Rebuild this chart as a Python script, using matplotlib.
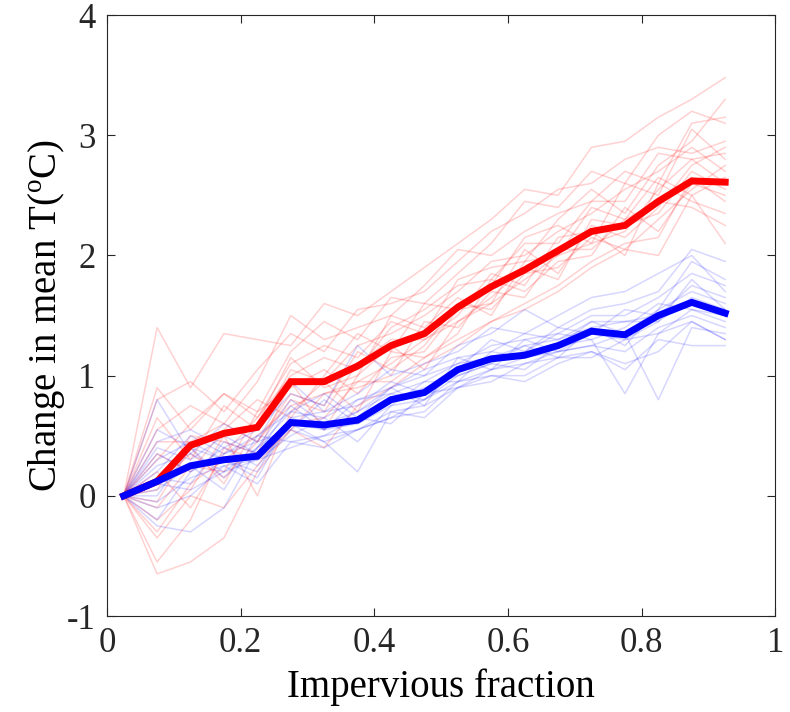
import numpy as np
import matplotlib
matplotlib.use("Agg")
import matplotlib.pyplot as plt

plt.rcParams["font.family"] = ["Liberation Serif", "DejaVu Serif"]
plt.rcParams["mathtext.fontset"] = "custom"
plt.rcParams["mathtext.rm"] = "Liberation Serif"
plt.rcParams["mathtext.it"] = "Liberation Serif:italic"
plt.rcParams["axes.unicode_minus"] = False

# impervious fraction bins (centres)
frac = [0.025, 0.075, 0.125, 0.175, 0.225, 0.275, 0.325, 0.375, 0.425, 0.475,
        0.525, 0.575, 0.625, 0.675, 0.725, 0.775, 0.825, 0.875, 0.925]

# ensemble mean warming
red_mean = [0, 0.12, 0.42, 0.52, 0.57, 0.95, 0.95, 1.08, 1.25, 1.35,
            1.57, 1.74, 1.88, 2.04, 2.20, 2.25, 2.45, 2.62, 2.61]
blue_mean = [0, 0.12, 0.25, 0.30, 0.33, 0.61, 0.59, 0.63, 0.80, 0.86,
             1.05, 1.14, 1.17, 1.25, 1.37, 1.34, 1.50, 1.61, 1.52]

# individual members
red_members = [
    [0, 1.40, 0.90, 1.35, 1.30, 1.25, 1.60, 1.50, 1.70, 1.90, 2.10, 2.30, 2.55, 2.50, 2.90, 2.95, 3.15, 3.30, 3.48],
    [0, -0.65, -0.55, -0.35, 0.20, 0.55, 0.40, 0.75, 0.90, 1.10, 1.25, 1.45, 1.55, 1.70, 1.90, 2.05, 2.00, 2.50, 2.10],
    [0, 0.90, 0.55, 0.85, 0.70, 1.20, 1.45, 1.30, 1.65, 1.60, 1.85, 2.10, 2.45, 2.40, 2.70, 2.60, 3.00, 3.20, 3.10],
    [0, -0.30, 0.10, 0.30, 0.50, 0.75, 0.85, 0.95, 1.10, 1.30, 1.45, 1.60, 1.80, 2.00, 2.10, 2.20, 2.55, 2.80, 2.60],
    [0, 0.55, 0.75, 0.60, 0.95, 1.50, 1.30, 1.40, 1.50, 1.75, 2.05, 2.00, 2.20, 2.35, 2.45, 2.70, 2.60, 3.10, 3.15],
    [0, 0.10, 0.35, 0.15, 0.45, 0.85, 0.75, 1.20, 1.05, 1.25, 1.60, 1.55, 1.85, 1.90, 2.15, 2.05, 2.30, 2.55, 2.75],
    [0, -0.20, 0.05, 0.50, 0.00, 0.70, 0.95, 0.70, 1.20, 1.15, 1.35, 1.80, 1.70, 1.95, 2.00, 2.40, 2.20, 2.60, 2.50],
    [0, 0.30, 0.60, 0.85, 0.65, 1.00, 1.15, 1.05, 1.40, 1.55, 1.75, 1.80, 2.10, 2.10, 2.45, 2.45, 2.85, 2.80, 2.85],
    [0, -0.55, -0.20, 0.40, 0.30, 0.55, 0.85, 0.90, 1.00, 1.45, 1.40, 1.70, 1.65, 2.05, 2.05, 2.30, 2.45, 2.40, 2.25],
    [0, 0.65, 0.30, 0.75, 0.55, 1.05, 0.95, 1.25, 1.35, 1.50, 1.70, 1.95, 2.00, 2.20, 2.35, 2.55, 2.70, 2.90, 2.70],
    [0, -0.10, 0.25, 0.20, 0.70, 0.90, 1.05, 0.85, 1.15, 1.20, 1.55, 1.60, 2.05, 1.85, 2.25, 2.15, 2.40, 2.75, 2.90],
    [0, 0.45, 0.45, 0.60, 0.45, 0.80, 0.70, 1.10, 1.30, 1.30, 1.50, 1.85, 1.75, 2.15, 2.20, 2.00, 2.60, 2.45, 2.35],
    [0, 0.20, -0.10, 0.35, 0.65, 1.10, 1.25, 1.15, 1.45, 1.35, 1.80, 1.90, 1.95, 2.30, 2.55, 2.35, 2.75, 2.95, 3.30],
    [0, -0.35, 0.00, -0.10, 0.25, 0.60, 0.65, 0.95, 0.95, 1.15, 1.30, 1.45, 1.60, 1.75, 1.95, 2.10, 2.15, 2.65, 2.45],
    [0, 0.80, 0.95, 0.70, 1.05, 1.35, 1.20, 1.55, 1.60, 1.70, 1.95, 2.20, 2.35, 2.55, 2.60, 2.80, 2.90, 2.85, 2.95],
    [0, 0.05, 0.50, 0.45, 0.35, 0.95, 0.55, 1.00, 1.25, 1.05, 1.45, 1.65, 1.90, 1.80, 2.30, 2.25, 2.35, 2.70, 2.55],
    [0, 0.35, 0.20, 0.55, 0.80, 0.65, 1.00, 1.35, 1.20, 1.60, 1.55, 1.75, 2.15, 2.25, 2.10, 2.60, 2.50, 3.05, 2.80],
    [0, -0.05, 0.40, 0.10, 0.60, 1.15, 0.90, 1.00, 1.50, 1.40, 1.65, 1.50, 1.95, 2.00, 2.40, 2.30, 2.65, 2.50, 2.65],
]
blue_members = [
    [0, 0.80, 0.35, 0.60, 0.45, 0.95, 0.70, 0.85, 1.05, 1.00, 1.25, 1.35, 1.55, 1.40, 1.55, 1.60, 1.70, 2.05, 1.95],
    [0, -0.25, -0.30, -0.10, 0.40, 0.60, 0.45, 0.55, 0.70, 0.75, 0.90, 1.00, 1.00, 1.15, 1.20, 1.10, 1.20, 1.45, 1.30],
    [0, 0.20, 0.50, 0.35, 0.50, 0.70, 0.85, 0.65, 0.90, 1.00, 1.10, 1.25, 1.30, 1.35, 1.50, 1.50, 1.65, 1.85, 1.75],
    [0, -0.05, 0.15, 0.25, 0.10, 0.45, 0.50, 0.55, 0.65, 0.70, 0.95, 1.05, 1.10, 1.20, 1.25, 1.20, 1.40, 1.50, 1.40],
    [0, 0.40, 0.30, 0.50, 0.35, 0.75, 0.55, 0.80, 0.90, 1.05, 1.15, 1.20, 1.35, 1.30, 1.45, 1.35, 1.55, 1.70, 1.60],
    [0, 0.10, 0.05, 0.20, 0.30, 0.50, 0.65, 0.45, 0.75, 0.80, 1.00, 1.10, 1.05, 1.25, 1.30, 0.85, 1.35, 1.55, 1.45],
    [0, 0.55, 0.40, 0.15, 0.40, 0.80, 0.60, 0.70, 0.85, 0.95, 1.10, 1.15, 1.25, 1.15, 1.40, 1.45, 1.45, 1.65, 1.55],
    [0, -0.20, 0.20, 0.40, 0.25, 0.55, 0.45, 0.20, 0.70, 0.65, 0.90, 1.05, 1.15, 1.20, 1.25, 1.35, 0.80, 1.40, 1.35],
    [0, 0.30, 0.45, 0.30, 0.20, 0.65, 0.70, 0.75, 0.95, 0.85, 1.05, 1.30, 1.20, 1.35, 1.30, 1.40, 1.60, 1.55, 1.50],
    [0, 0.15, 0.10, 0.45, 0.35, 0.60, 0.55, 0.60, 0.80, 0.90, 1.00, 1.10, 1.25, 1.30, 1.40, 1.25, 1.55, 1.95, 1.80],
    [0, 0.05, 0.25, 0.05, 0.50, 0.45, 0.40, 0.55, 0.65, 0.80, 0.95, 1.00, 0.95, 1.10, 1.20, 1.05, 1.30, 1.25, 1.25],
    [0, 0.45, 0.55, 0.40, 0.55, 0.85, 0.75, 1.25, 1.00, 1.10, 1.20, 1.40, 1.35, 1.50, 1.65, 1.70, 1.85, 2.00, 1.70],
    [0, -0.10, 0.00, 0.25, 0.30, 0.40, 0.50, 0.65, 0.60, 0.85, 0.90, 0.95, 1.10, 1.15, 1.15, 1.30, 1.35, 1.45, 1.30],
    [0, 0.25, 0.35, 0.20, 0.40, 0.70, 0.65, 0.80, 0.85, 0.80, 1.05, 1.15, 1.20, 1.40, 1.35, 1.55, 1.50, 1.75, 1.65],
    [0, 0.35, 0.20, 0.35, 0.45, 0.55, 0.80, 0.60, 0.75, 0.95, 0.95, 1.20, 1.15, 1.25, 1.45, 1.45, 1.50, 1.60, 1.50],
    [0, 0.00, 0.40, 0.30, 0.15, 0.65, 0.55, 0.70, 0.90, 0.75, 1.15, 1.05, 1.30, 1.20, 1.35, 1.30, 1.45, 1.80, 1.55],
]

fig = plt.figure(figsize=(7.9, 7.12), dpi=100)
ax = fig.add_axes([0.1354, 0.1348, 0.846, 0.844])

for m in red_members:
    ax.plot(frac, m, color=(1, 0, 0, 0.18), lw=1.1)
for m in blue_members:
    ax.plot(frac, m, color=(0, 0, 1, 0.16), lw=1.1)

ax.plot(frac, red_mean, color="red", lw=5, solid_joinstyle="miter")
ax.plot(frac, blue_mean, color="blue", lw=5, solid_joinstyle="miter")

ax.set_xlim(0, 1)
ax.set_ylim(-1, 4)
ax.set_xticks([0, 0.2, 0.4, 0.6, 0.8, 1])
ax.set_xticklabels(["0", "0.2", "0.4", "0.6", "0.8", "1"])
ax.set_yticks([-1, 0, 1, 2, 3, 4])
ax.tick_params(direction="in", length=6, width=0.8, top=True, right=True,
               labelsize=25, colors="#262626", pad=8)
for s in ax.spines.values():
    s.set_color("#262626")
    s.set_linewidth(0.8)

ax.set_xlabel("Impervious fraction", fontsize=28, labelpad=6)
ax.set_ylabel(r"Change in mean T($^{\rm o}$C)", fontsize=28, labelpad=0)

fig.savefig("out.png", dpi=100)
